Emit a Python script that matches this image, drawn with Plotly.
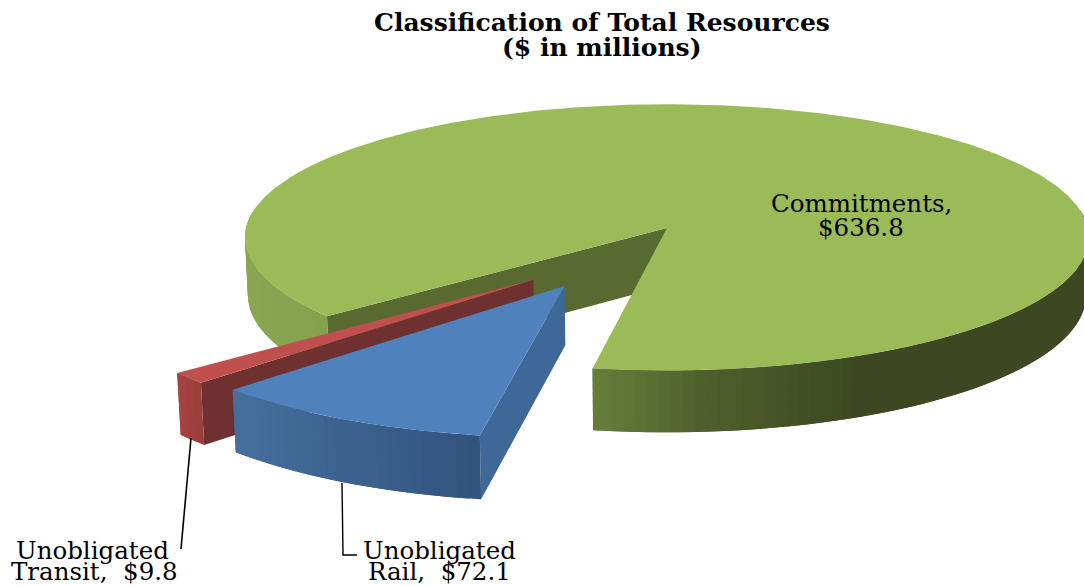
import numpy as np
import plotly.graph_objects as go

# ---- data ----
categories = ["Commitments", "Unobligated Rail", "Unobligated Transit"]
values = [636.8, 72.1, 9.8]
title_lines = ["Classification of Total Resources", "($ in millions)"]

# ---- styles ----
top_colors = ["#9bbb59", "#4f81bd", "#c0504d"]
cut_colors = ["#586a2f", "#3d6898", "#6f3030"]
wall_stops = [
    ([245, 327, 594, 700, 850, 1090], ["#8aa853", "#84a24e", "#667e3a", "#4f622d", "#3e4923", "#3d4823"]),
    ([228, 478], ["#46709f", "#31547e"]),
    ([173, 198], ["#a84644", "#9c3e3c"]),
]
offsets = [(0.0, 0.0), (-0.236, 0.425), (-0.309, 0.38)]   # pie explosion per slice
cx, cy, rx, ry, persp, depth, taper = 667, 228, 421, 132.5, 0.07, 57.5, 0.993
first_angle = 50.5
FONT = "DejaVu Serif"


def hex2rgb(c):
    return np.array([int(c[i:i + 2], 16) for i in (1, 3, 5)], float)


def proj(u, v, bottom=False):
    u, v = np.asarray(u, float), np.asarray(v, float)
    s = 1 / (1 - persp * v)
    x = cx + rx * u * s
    y = cy + ry * v * s
    if bottom:
        x = cx + (x - cx) * taper
        y = y + depth * s
    return x, y


def rim(phi, off):
    r = np.radians(phi)
    return off[0] - np.sin(r), off[1] + np.cos(r)


def wall_color(x, stops):
    xs, cols = stops
    rgb = [np.interp(x, xs, [hex2rgb(c)[i] for c in cols]) for i in range(3)]
    return "rgb(%d,%d,%d)" % tuple(rgb)


fig = go.Figure()


def poly(x, y, color, name):
    fig.add_trace(go.Scatter(
        x=list(x) + [x[0]], y=list(y) + [y[0]], mode="lines", fill="toself",
        fillcolor=color, line=dict(color=color, width=0),
        hoverinfo="skip", showlegend=False, name=name))


def outer_wall(a, b, off, stops, name):
    # painted from the far end back; every strip runs on under the next one so no seams show
    phis = np.arange(a, b, 1.5).tolist() + [b]
    pairs = list(zip(phis[:-1], phis[1:]))
    for p0, p1 in pairs:
        if np.cos(np.radians(p0)) < -0.12 and np.cos(np.radians(p1)) < -0.12:
            continue
        p2 = min(p1 + 1.5, b)
        mid = np.linspace(p0, p2, 4)
        u, v = rim(mid, off)
        xt, yt = proj(u, v)
        xb, yb = proj(u, v, True)
        xm, _ = proj(*rim((p0 + p1) / 2, off))
        poly(xt.tolist() + xb[::-1].tolist(), yt.tolist() + yb[::-1].tolist(),
             wall_color(float(xm), stops), name)


def cut_wall(phi, off, color, name):
    u, v = rim(phi, off)
    xr, yr = proj(u, v)
    xrb, yrb = proj(u, v, True)
    xa, ya = proj(off[0], off[1])
    xab, yab = proj(off[0], off[1], True)
    poly([float(xa), float(xr), float(xrb), float(xab)],
         [float(ya), float(yr), float(yrb), float(yab)], color, name)


def top(a, b, off, color, name):
    phis = np.linspace(a, b, int((b - a) * 2) + 2)
    u, v = rim(phis, off)
    xr, yr = proj(u, v)
    xa, ya = proj(off[0], off[1])
    poly([float(xa)] + xr.tolist(), [float(ya)] + yr.tolist(), color, name)


total = sum(values)
sweeps = [v / total * 360 for v in values]
starts = [first_angle, first_angle + sweeps[0], first_angle + sweeps[0] + sweeps[1]]
ends = [s + w for s, w in zip(starts, sweeps)]

# Commitments
cut_wall(starts[0], offsets[0], cut_colors[0], categories[0])
outer_wall(starts[0], ends[0], offsets[0], wall_stops[0], categories[0])
top(starts[0], ends[0], offsets[0], top_colors[0], categories[0])
# Transit
cut_wall(starts[2], offsets[2], cut_colors[2], categories[2])
outer_wall(starts[2], ends[2], offsets[2], wall_stops[2], categories[2])
top(starts[2], ends[2], offsets[2], top_colors[2], categories[2])
# Rail
cut_wall(starts[1], offsets[1], cut_colors[1], categories[1])
outer_wall(starts[1], ends[1], offsets[1], wall_stops[1], categories[1])
top(starts[1], ends[1], offsets[1], top_colors[1], categories[1])

# leader lines
fig.add_trace(go.Scatter(x=[191, 181], y=[438, 549], mode="lines",
                         line=dict(color="black", width=1.6), hoverinfo="skip", showlegend=False))
fig.add_trace(go.Scatter(x=[342, 343, 357], y=[483, 555, 555], mode="lines",
                         line=dict(color="black", width=1.4), hoverinfo="skip", showlegend=False))

labels = [
    (861, 203, "Commitments,"), (861, 227, f"${values[0]}"),
    (92, 550, "Unobligated"), (94, 571, f"Transit,  ${values[2]}"),
    (439, 550, "Unobligated"), (439, 571, f"Rail,  ${values[1]}"),
]
annotations = [dict(x=x, y=y, text=t, showarrow=False, xanchor="center", yanchor="middle",
                    font=dict(family=FONT, size=24.5, color="black")) for x, y, t in labels]
annotations += [dict(x=602, y=y, text=t, showarrow=False, xanchor="center", yanchor="middle",
                     font=dict(family=FONT, size=25, color="black", weight="bold"))
                for y, t in zip([22, 47], title_lines)]

fig.update_layout(
    width=1084, height=586, margin=dict(l=0, r=0, t=0, b=0),
    paper_bgcolor="white", plot_bgcolor="white", showlegend=False,
    xaxis=dict(range=[0, 1084], visible=False, fixedrange=True),
    yaxis=dict(range=[586, 0], visible=False, fixedrange=True),
    annotations=annotations,
)
fig.write_html("out.html", config=dict(displayModeBar=False),
               post_script="document.body.style.margin='0';document.body.style.overflow='hidden';")
